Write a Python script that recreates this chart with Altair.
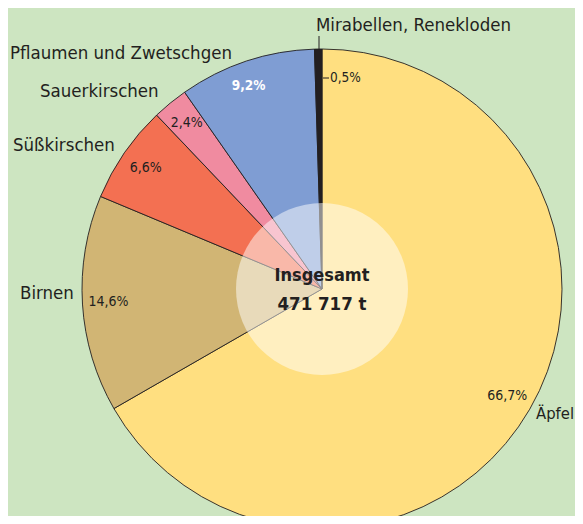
import altair as alt
import pandas as pd

# ---- data ----
categories = ["Äpfel", "Birnen", "Süßkirschen", "Sauerkirschen",
              "Pflaumen und  Zwetschgen", "Mirabellen, Renekloden"]
shares = [66.7, 14.6, 6.6, 2.4, 9.2, 0.5]
share_labels = ["66,7%", "14,6%", "6,6%", "2,4%", "9,2%", "0,5%"]
total_lines = ["Insgesamt", "471 717 t"]

# ---- styling / layout ----
colors = ["#ffdf80", "#d1b574", "#f37052", "#f08ba0", "#7f9dd3", "#231f20"]
BG = "#cde5c1"
INK = "#231f20"
FONT = "DejaVu Sans Condensed, sans-serif"
CX, CY, R = 314, 281, 240
# outer category label anchors (left edge, baseline)
label_x = [528, 12, 5, 32, 2, 308]
label_y = [411, 291, 143, 89, 51, 23]
label_size = [16.5, 18.5, 18.5, 18.5, 18.5, 18.5]

n = len(categories)
df = pd.DataFrame({
    "category": categories,
    "share": shares,
    "order": list(range(n)),
    "plain": [l if i < 4 else "" for i, l in enumerate(share_labels)],
    "bold": [l if i == 4 else "" for i, l in enumerate(share_labels)],
})

theta = alt.Theta("share:Q", stack=True)
order = alt.Order("order:Q")

pie = alt.Chart(df).mark_arc(outerRadius=R, stroke=INK, strokeWidth=0.9).encode(
    theta=theta, order=order,
    color=alt.Color("category:N", scale=alt.Scale(domain=categories, range=colors), legend=None),
    x=alt.value(CX), y=alt.value(CY),
)

pct_plain = alt.Chart(df).mark_text(radius=214, font=FONT, fontSize=14, color=INK).encode(
    theta=theta, order=order, text="plain:N", x=alt.value(CX), y=alt.value(CY),
)
pct_bold = alt.Chart(df).mark_text(radius=214, font=FONT, fontSize=13.5, fontWeight="bold",
                                   color="white", dx=-6).encode(
    theta=theta, order=order, text="bold:N", x=alt.value(CX), y=alt.value(CY),
)

center_df = pd.DataFrame({"line": total_lines})
center_circle = alt.Chart(pd.DataFrame({"t": [1]})).mark_circle(
    size=172 * 172, color="white", opacity=0.5, strokeWidth=0
).encode(x=alt.value(CX), y=alt.value(CY))

center_txt1 = alt.Chart(center_df.iloc[[0]]).mark_text(
    font=FONT, fontSize=18, fontWeight="bold", color=INK, baseline="alphabetic"
).encode(text="line:N", x=alt.value(CX), y=alt.value(CY - 8))
center_txt2 = alt.Chart(center_df.iloc[[1]]).mark_text(
    font=FONT, fontSize=18.5, fontWeight="bold", color=INK, baseline="alphabetic"
).encode(text="line:N", x=alt.value(CX), y=alt.value(CY + 21))

lab_layers = []
for i, cat in enumerate(categories):
    lab_layers.append(
        alt.Chart(df.iloc[[i]]).mark_text(
            font=FONT, fontSize=label_size[i], color=INK, align="left", baseline="alphabetic"
        ).encode(text="category:N", x=alt.value(label_x[i]), y=alt.value(label_y[i]))
    )

mira_df = df.iloc[[5]].assign(lbl=share_labels[5])
lead1 = alt.Chart(mira_df).mark_rule(color=INK, strokeWidth=1).encode(
    x=alt.value(311), y=alt.value(28), y2=alt.value(42))
lead2 = alt.Chart(mira_df).mark_rule(color=INK, strokeWidth=1).encode(
    x=alt.value(315), x2=alt.value(321), y=alt.value(70))
mira_pct = alt.Chart(mira_df).mark_text(
    font=FONT, fontSize=13.5, color=INK, align="left", baseline="middle"
).encode(text="lbl:N", x=alt.value(322), y=alt.value(70))

chart = alt.layer(
    pie, center_circle, pct_plain, pct_bold, center_txt1, center_txt2,
    *lab_layers, lead1, lead2, mira_pct
).properties(
    width=567, height=508, padding=0, autosize="none"
).configure(background=BG).configure_view(stroke=None)

chart.save("out.html", embed_options={"renderer": "svg", "actions": False})
